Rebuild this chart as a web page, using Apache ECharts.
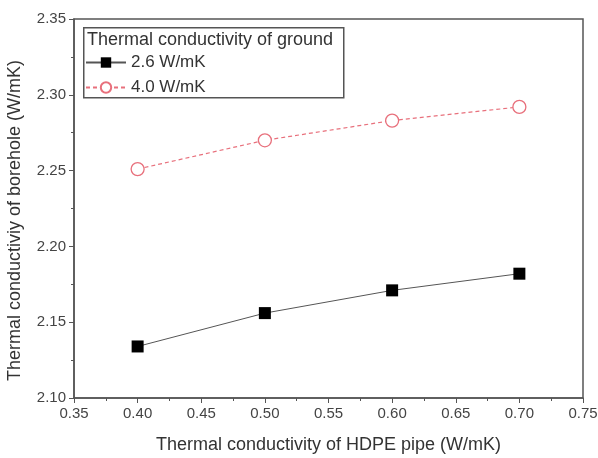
<!DOCTYPE html>
<html>
<head>
<meta charset="utf-8">
<script src="https://cdn.jsdelivr.net/npm/echarts@6/dist/echarts.min.js"></script>
<style>
  html, body { margin: 0; padding: 0; background: #fff; }
  #chart { width: 598px; height: 458px; }
</style>
</head>
<body>
<div id="chart"></div>
<script>
// 数据
var pipeK = [0.40, 0.50, 0.60, 0.70];
var ground26 = [2.134, 2.156, 2.171, 2.182];
var ground40 = [2.251, 2.270, 2.283, 2.292];
var legendTitle = 'Thermal conductivity of ground';
var seriesNames = ['2.6 W/mK', '4.0 W/mK'];

function pairs(xs, ys) {
  return xs.map(function (x, i) { return [x, ys[i]]; });
}

var myChart = echarts.init(document.getElementById('chart'));

var axisColor = '#555';
var labelColor = '#444';
var font = 'Liberation Sans, Arial, sans-serif';

var option = {
  animation: false,
  textStyle: { fontFamily: font },
  grid: {
    left: 74, top: 19, width: 509, height: 379,
    outerBoundsMode: 'none',
    show: true, borderColor: axisColor, borderWidth: 1.5
  },
  // 图例外框 + 标题
  graphic: [
    {
      type: 'rect',
      left: 83, top: 27,
      shape: { width: 260, height: 70 },
      style: { fill: '#fff', stroke: axisColor, lineWidth: 1.5 },
      z: 10
    },
    {
      type: 'text',
      left: 87, top: 31,
      style: { text: legendTitle, fontSize: 18, fill: '#333', fontFamily: font },
      z: 11
    }
  ],
  legend: {
    left: 85, top: 54,
    padding: 0,
    orient: 'vertical',
    itemGap: 8,
    itemWidth: 40,
    itemHeight: 13,
    textStyle: { fontSize: 17, color: '#333' },
    data: seriesNames,
    z: 12
  },
  xAxis: {
    type: 'value',
    min: 0.35, max: 0.75, interval: 0.05,
    name: 'Thermal conductivity of HDPE pipe (W/mK)',
    nameLocation: 'middle',
    nameGap: 38,
    nameTextStyle: { fontSize: 18, color: '#333' },
    axisLine: { lineStyle: { color: axisColor, width: 1.5 } },
    axisTick: { inside: false, length: 5, lineStyle: { color: axisColor } },
    minorTick: { show: true, splitNumber: 2, length: 3, lineStyle: { color: axisColor } },
    axisLabel: { fontSize: 15, color: labelColor, margin: 8, formatter: function (v) { return v.toFixed(2); } },
    splitLine: { show: false }
  },
  yAxis: {
    type: 'value',
    min: 2.10, max: 2.35, interval: 0.05,
    name: 'Thermal conductiviy of borehole (W/mK)',
    nameLocation: 'middle',
    nameGap: 50,
    nameTextStyle: { fontSize: 18, color: '#333', padding: [0, 24, 0, 0] },
    axisLine: { show: true, lineStyle: { color: axisColor, width: 1.5 } },
    axisTick: { show: true, inside: false, length: 5, lineStyle: { color: axisColor } },
    minorTick: { show: true, splitNumber: 2, length: 3, lineStyle: { color: axisColor } },
    axisLabel: { fontSize: 15, color: labelColor, margin: 8, formatter: function (v) { return v.toFixed(2); } },
    splitLine: { show: false }
  },
  series: [
    {
      name: seriesNames[0],
      type: 'line',
      data: pairs(pipeK, ground26),
      symbol: 'rect',
      symbolSize: 12,
      itemStyle: { color: '#000' },
      lineStyle: { color: '#555', width: 1 }
    },
    {
      name: seriesNames[1],
      type: 'line',
      data: pairs(pipeK, ground40),
      symbol: 'circle',
      symbolSize: 13,
      itemStyle: { color: '#fff', borderColor: '#e8707c', borderWidth: 1.3 },
      lineStyle: { color: '#e8707c', width: 1.2, type: [4, 3] }
    }
  ]
};

myChart.setOption(option);
</script>
</body>
</html>
